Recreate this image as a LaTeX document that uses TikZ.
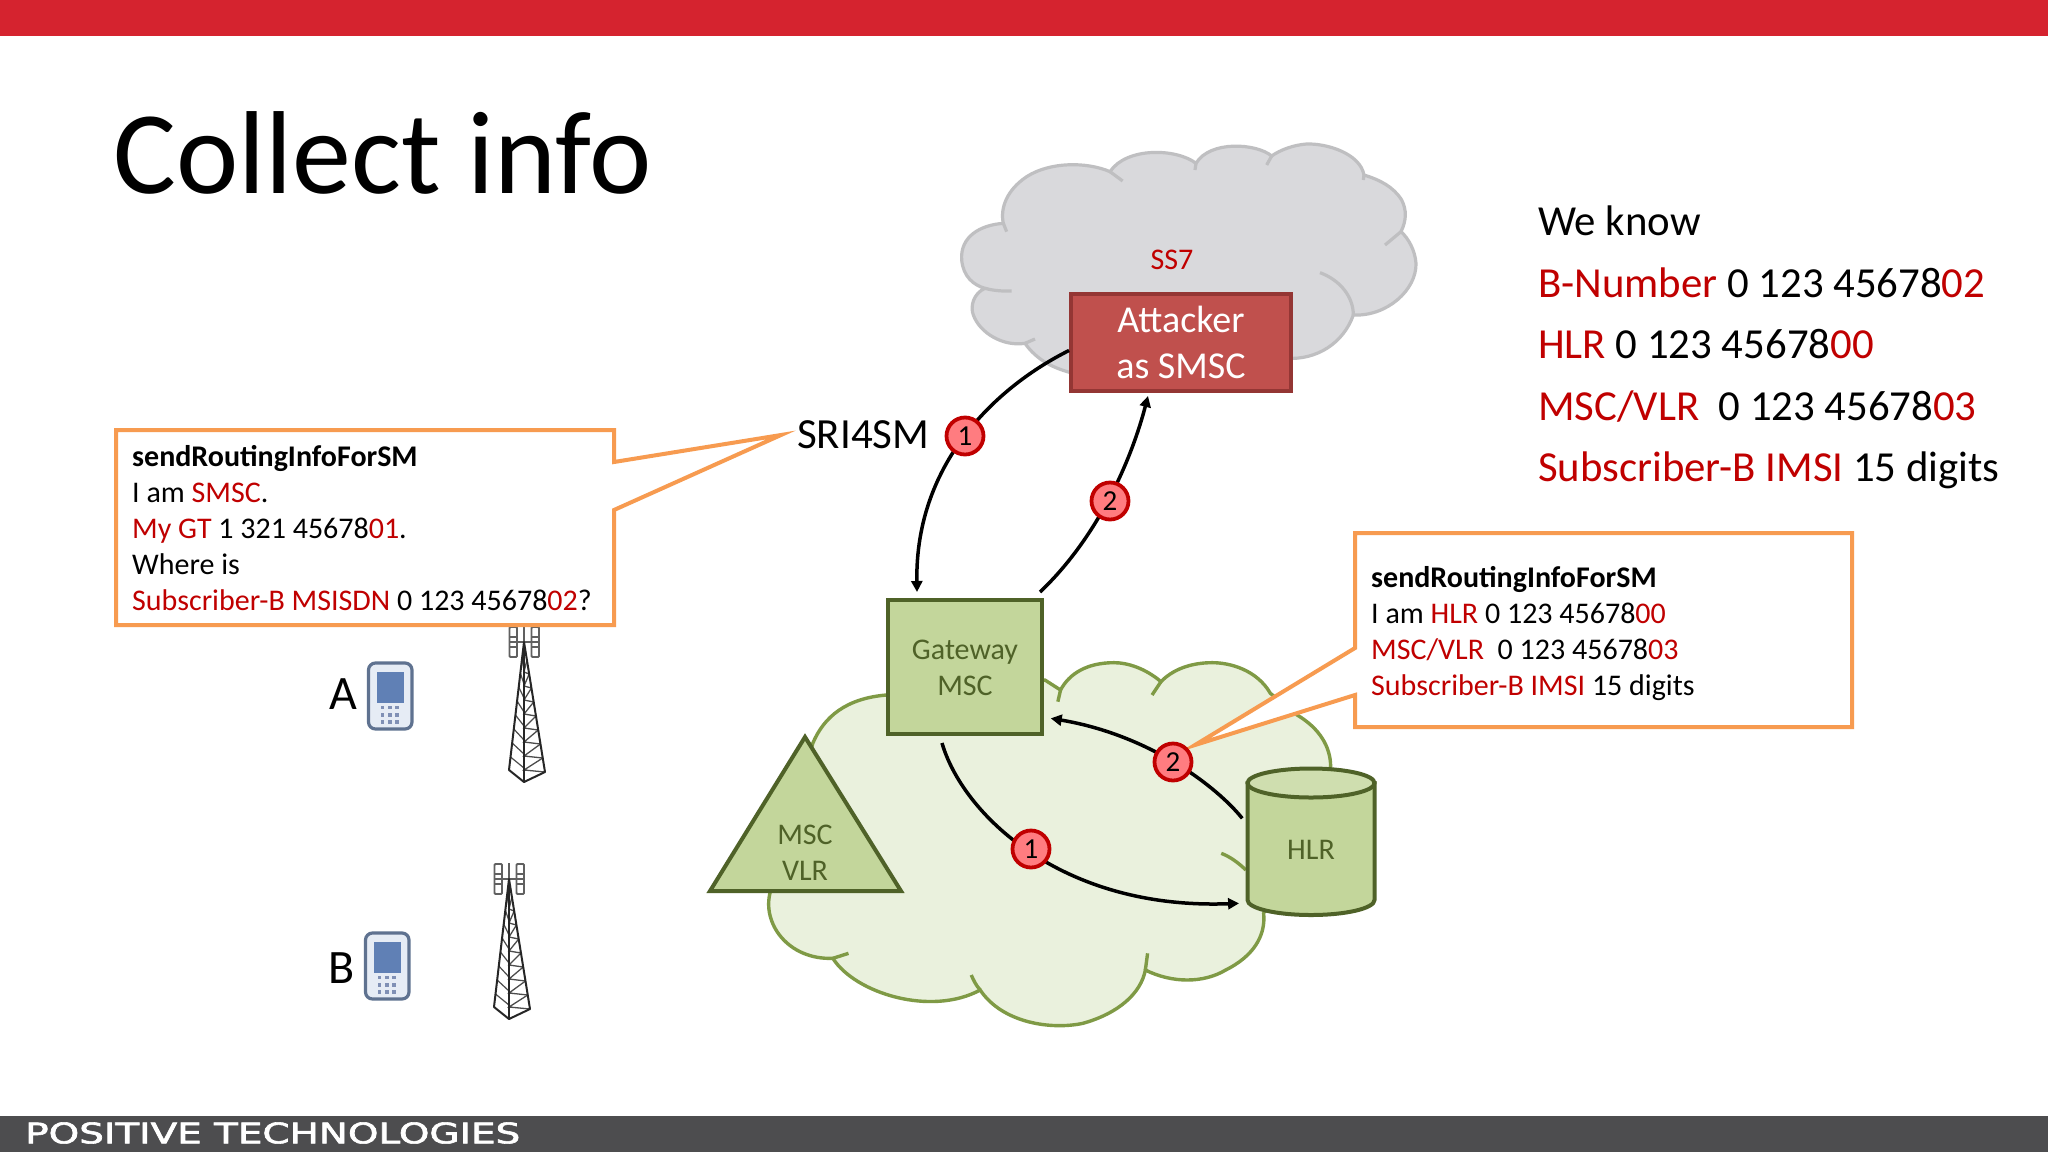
\documentclass[tikz,border=0pt]{standalone}
\usepackage{fontspec}
\usepackage{graphicx}
\setmainfont{Carlito}
\newfontfamily\logofont[FakeBold=2]{DejaVu Sans}
\usetikzlibrary{arrows.meta,calc}
\definecolor{topred}{HTML}{D5232F}
\definecolor{footgrey}{HTML}{4D4D4F}
\definecolor{txtred}{HTML}{C00000}
\definecolor{orangeline}{HTML}{F79B50}
\definecolor{ssfill}{HTML}{D9D9DC}
\definecolor{ssline}{HTML}{BFBFC1}
\definecolor{atkfill}{HTML}{C0504D}
\definecolor{atkline}{HTML}{943634}
\definecolor{gfill}{HTML}{C3D69B}
\definecolor{gline}{HTML}{4F6228}
\definecolor{cfill}{HTML}{EAF1DD}
\definecolor{cline}{HTML}{7F9A45}
\definecolor{gtext}{HTML}{4F6228}
\definecolor{badgefill}{HTML}{FF7C80}
\definecolor{phline}{HTML}{5F7290}
\definecolor{phfill}{HTML}{E6ECF5}
\definecolor{phscreen}{HTML}{6080B5}
\definecolor{phkey}{HTML}{8090B5}
\newcommand{\fsz}[2]{\fontsize{#1}{#2}\selectfont}
\newcommand{\rd}[1]{\textcolor{txtred}{#1}}
\tikzset{
  conn/.style={line width=3.5pt,-{Triangle[length=11pt,width=11pt]},black},
  badge/.style={circle,draw=txtred,fill=badgefill,line width=3.8pt,minimum size=37pt,inner sep=0pt,font=\fsz{29}{32},text=black},
  gshape/.style={draw=gline,fill=gfill,line width=4pt,line join=miter},
  callout/.style={draw=orangeline,fill=white,line width=4pt,line join=miter},
  lbl/.style={inner sep=0pt,text=gtext,align=center,font=\fsz{30}{36}},
  boxtext/.style={inner sep=0pt,anchor=north west,align=left,font=\fsz{30}{36}},
  pics/tower/.style={code={
    \draw[gray!75!black,line width=1.8pt,rounded corners=1pt]
      (-14.5,-15) rectangle (-7,15) (-14.5,-5) -- (-7,-5) (-14.5,5) -- (-7,5)
      (7.5,-15) rectangle (15,15) (7.5,-5) -- (15,-5) (7.5,5) -- (15,5);
    \draw[gray!75!black,line width=1.4pt] (-15,0) -- (15,0) (0,-16) -- (0,0);
    \foreach \yy in {24,38,52,66,80,94,108,122}{
      \draw[gray!60!black,line width=1.3pt] ({21*(\yy-6)/130},\yy-6) -- (0,\yy+6) -- ({21*(\yy+8)/130},\yy+8);
      \draw[gray!60!black,line width=1.2pt] ({-15*(\yy-7)/128},\yy-7) -- (0,\yy+4);
    }
    \draw[black!85,line width=2pt,line join=round] (0,0) -- (-15,128) -- (0,140) -- (21,130) -- cycle;
    \draw[black!85,line width=2pt] (0,0) -- (0,140);
  }},
  pics/phone/.style={code={
    \draw[draw=phline,fill=phfill,line width=3.2pt,rounded corners=7pt] (0,0) rectangle (43.5,66);
    \fill[phscreen] (8,8.5) rectangle (35.5,40);
    \foreach \kx in {14,21.5,28.5}{\foreach \ky in {44.5,52,59}{
      \fill[phkey] (\kx-1.8,\ky-1.8) rectangle (\kx+1.8,\ky+1.8);}}
  }}
}
\begin{document}
\begin{tikzpicture}[x=1pt,y=-1pt]
\useasboundingbox (0,0) rectangle (2048,1152);
\fill[white] (0,0) rectangle (2048,1152);
\fill[topred] (0,0) rectangle (2048,36);
\fill[footgrey] (0,1116) rectangle (2048,1152);
\node[anchor=west,inner sep=0pt,text=white] (logo) at (25,1133)
  {\resizebox{495pt}{21pt}{\logofont POSITIVE TECHNOLOGIES}};
\node[anchor=base west,inner sep=0pt,font=\fsz{118}{130}] (title) at (113,193) {Collect info};

% SS7 cloud
\begin{scope}[shift={(940,120)},x=0.33333pt,y=-0.33333pt,line width=3.2pt]
\path[fill=ssfill,draw=ssline] (190,310) .. controls (120,315) and (60,350) .. (65,420) .. controls (70,470) and (100,495) .. (135,505)
 .. controls (100,520) and (90,560) .. (100,585) .. controls (120,640) and (190,680) .. (255,670)
 .. controls (290,720) and (340,745) .. (400,760) -- (1040,715) .. controls (1130,720) and (1210,670) .. (1240,585)
 .. controls (1340,590) and (1430,510) .. (1428,430) .. controls (1425,390) and (1405,355) .. (1383,335)
 .. controls (1400,300) and (1400,270) .. (1385,240) .. controls (1360,200) and (1320,180) .. (1272,165)
 .. controls (1260,100) and (1160,70) .. (1100,72) .. controls (1060,75) and (1020,90) .. (995,108)
 .. controls (950,70) and (810,60) .. (768,130)
 .. controls (710,85) and (560,80) .. (510,155)
 .. controls (440,125) and (330,125) .. (260,170) .. controls (200,210) and (180,265) .. (190,310) -- cycle;
\draw[ssline] (190,310) -- (200,335) (135,505) .. controls (160,512) and (190,514) .. (215,513)
 (255,670) -- (285,657) (1240,585) .. controls (1240,530) and (1200,480) .. (1140,458)
 (1383,335) -- (1335,375) (1272,165) -- (1270,180) (995,108) -- (980,135)
 (768,130) -- (765,150) (510,155) -- (548,183);
\end{scope}
\node[inner sep=0pt,text=txtred,font=\fsz{30}{34}] (ss7) at (1172,260) {SS7};
\node[draw=atkline,fill=atkfill,line width=4pt,minimum width=220pt,minimum height=97pt,inner sep=0pt,text=white,align=center,font=\fsz{38}{46}] (atk) at (1181,342.5) {Attacker\\as SMSC};

% green cloud
\begin{scope}[shift={(690,640)},x=0.44643pt,y=-0.33333pt,line width=3.4pt]
\path[fill=cfill,draw=cline] (440,165) .. controls (350,175) and (300,230) .. (275,310) -- (180,755)
 .. controls (160,850) and (220,960) .. (320,955)
 .. controls (370,1060) and (540,1130) .. (650,1050)
 .. controls (700,1150) and (810,1170) .. (880,1150) .. controls (960,1120) and (1010,1060) .. (1020,990)
 .. controls (1080,1030) and (1150,1030) .. (1200,990) .. controls (1260,950) and (1290,890) .. (1285,820)
 -- (1435,380) .. controls (1435,320) and (1410,265) .. (1360,225)
 -- (1300,160) .. controls (1270,90) and (1210,68) .. (1170,68) .. controls (1120,68) and (1080,90) .. (1055,125)
 .. controls (1020,85) and (980,68) .. (950,68) .. controls (890,68) and (850,100) .. (830,150)
 -- (795,120) -- cycle;
\draw[draw=cline] (830,150) -- (824,185) (1055,125) -- (1035,165) (355,940) -- (320,955)
 (630,1005) .. controls (635,1020) and (640,1035) .. (650,1050)
 (1025,940) -- (1020,990) (1190,640) .. controls (1210,650) and (1230,670) .. (1245,690);
\end{scope}

\node[gshape,minimum width=154pt,minimum height=134pt,inner sep=0pt,text=gtext,lbl] (gw) at (965,667) {};
\node[lbl] (gwt) at (965,668) {Gateway\\MSC};
% triangle
\draw[gshape] (805,737) -- (901,891) -- (710,891) -- cycle;
\node[lbl] (vlr) at (805,853) {MSC\\VLR};
% HLR
\draw[gshape,fill=gfill] (1247.5,783) -- (1247.5,900) arc[start angle=180,end angle=360,x radius=63.5pt,y radius=15pt] -- (1374.5,783) -- cycle;
\draw[gline,line width=4pt,fill=gfill!70!cfill] (1311,783) ellipse[x radius=63.5pt,y radius=14.5pt];
\node[lbl] (hlr) at (1311,850) {HLR};

% towers and phones
\pic at (524,642) {tower};
\pic at (509,879) {tower};
\pic at (368.5,663) {phone};
\pic at (365.5,933) {phone};
\node[inner sep=0pt,font=\fsz{48}{50}] (a) at (343,694) {A};
\node[inner sep=0pt,font=\fsz{48}{50}] (b) at (342,968) {B};

% connectors
\draw[conn] ([yshift=-8pt]atk.west) .. controls (1000,385) and (915,460) .. ([xshift=31pt,yshift=6pt]gw.north west);
\draw[conn] ([xshift=-4pt,yshift=6pt]gw.north east) .. controls (1095,540) and (1130,465) .. ([xshift=-33pt,yshift=-3pt]atk.south);
\begin{scope}[shift={(690,640)},x=0.44643pt,y=-0.33333pt]
\draw[conn] ([xshift=-23pt,yshift=-7pt]gw.south) .. controls (610,520) and (830,810) .. (1230,790);
\draw[conn] (1237,535) .. controls (1180,440) and (1030,285) .. (808,235);
\end{scope}

% callouts
\draw[callout] (116,430) -- (614,430) -- (614,462) -- (781,435) -- (614,510) -- (614,625) -- (116,625) -- cycle;
\node[boxtext] (ltext) at (132,445) {\textbf{sendRoutingInfoForSM}\\I am \rd{SMSC}.\\\rd{My GT} 1 321 45678\rd{01}.\\Where is\\\rd{Subscriber-B MSISDN} 0 123 45678\rd{02}?};
\draw[callout] (1355,533) -- (1852,533) -- (1852,727) -- (1355,727) -- (1355,695) -- (1195,745) -- (1355,648) -- cycle;
\node[boxtext] (rtext) at (1371,566) {\textbf{sendRoutingInfoForSM}\\I am \rd{HLR} 0 123 45678\rd{00}\\\rd{MSC/VLR}\ \ 0 123 45678\rd{03}\\\rd{Subscriber-B IMSI} 15 digits};
\node[inner sep=0pt,anchor=west,font=\fsz{43}{50}] (sri) at (797,435) {SRI4SM};

\node[badge] (b1a) at (965,436) {1};
\node[badge] (b2a) at (1110,501) {2};
\node[badge] (b1b) at (1031,849) {1};
\node[badge] (b2b) at (1173,762) {2};

\node[inner sep=0pt,anchor=north west,align=left,font=\fsz{42.8}{61.4}] (know) at (1538,206)
 {We know\\\rd{B-Number} 0 123 45678\rd{02}\\\rd{HLR} 0 123 45678\rd{00}\\\rd{MSC/VLR}\ \ 0 123 45678\rd{03}\\\rd{Subscriber-B IMSI} 15 digits};
\end{tikzpicture}
\end{document}
